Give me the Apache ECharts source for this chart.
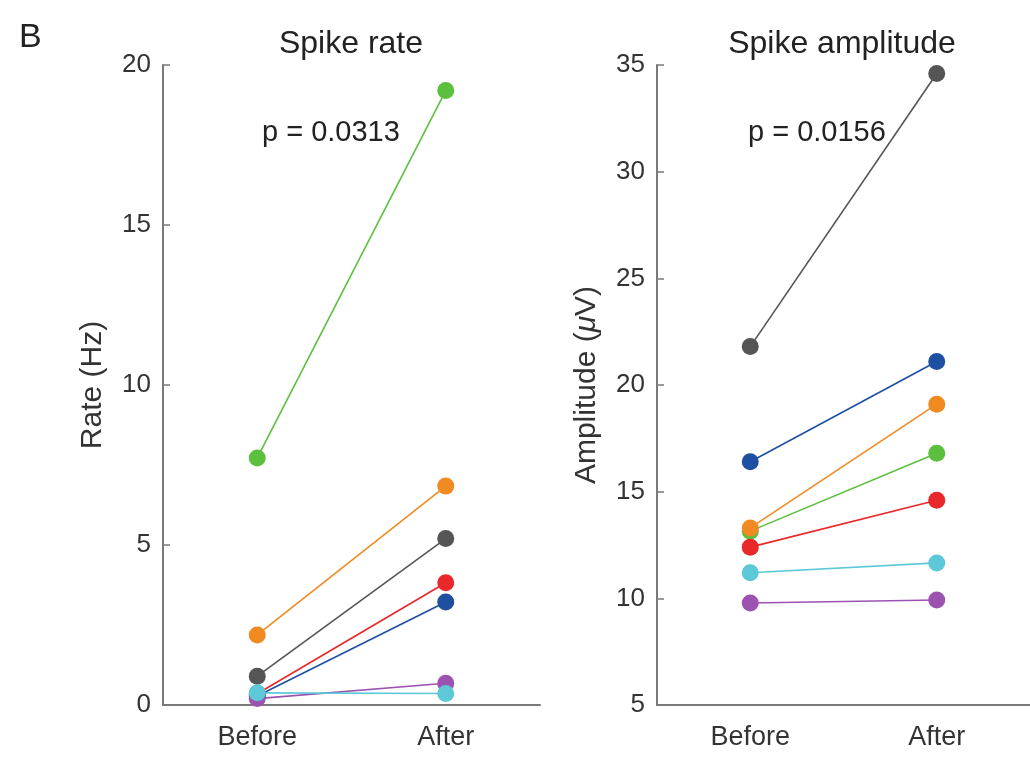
<!DOCTYPE html>
<html>
<head>
<meta charset="utf-8">
<script src="https://cdn.jsdelivr.net/npm/echarts@6/dist/echarts.min.js"></script>
<style>
  html, body { margin: 0; padding: 0; background: #fff; }
  #chart { width: 1030px; height: 757px; }
</style>
</head>
<body>
<div id="chart"></div>
<script>
// categories
const phases = ['Before', 'After']

// colours per recording
const colors = ['#5cbf3e', '#f28a22', '#555555', '#e8282a', '#1f4fa0', '#9b52b0', '#5cc8d8']

// spike rate (Hz): [before, after]
const rateGreen = [7.72, 19.2]
const rateOrange = [2.19, 6.84]
const rateGray = [0.9, 5.2]
const rateRed = [0.35, 3.82]
const rateBlue = [0.28, 3.22]
const ratePurple = [0.2, 0.68]
const rateCyan = [0.38, 0.36]
const rateSets = [rateGreen, rateOrange, rateGray, rateRed, rateBlue, ratePurple, rateCyan]

// spike amplitude (uV): [before, after]
const ampGreen = [13.15, 16.8]
const ampOrange = [13.3, 19.1]
const ampGray = [21.8, 34.6]
const ampRed = [12.4, 14.6]
const ampBlue = [16.4, 21.1]
const ampPurple = [9.78, 9.92]
const ampCyan = [11.2, 11.66]
const ampSets = [ampGreen, ampOrange, ampGray, ampRed, ampBlue, ampPurple, ampCyan]

const rateTicks = { min: 0, max: 20, interval: 5 }
const ampTicks = { min: 5, max: 35, interval: 5 }

const font = 'Liberation Sans, Arial, sans-serif'
const axisGray = '#7a7a7a'
const textGray = '#333'

// 通用坐标轴样式
const baseX = {
  type: 'category',
  data: phases,
  boundaryGap: true,
  axisLine: { lineStyle: { color: axisGray, width: 2 } },
  axisTick: { inside: true, alignWithLabel: true, length: 6, lineStyle: { color: axisGray, width: 1.5 } },
  axisLabel: { color: textGray, fontSize: 27, fontFamily: font, margin: 19 },
  splitLine: { show: false }
}

const baseY = {
  type: 'value',
  axisLine: { show: true, lineStyle: { color: axisGray, width: 2 } },
  axisTick: { show: true, inside: true, length: 7, lineStyle: { color: axisGray, width: 1.5 } },
  axisLabel: { color: textGray, fontSize: 26, fontFamily: font, margin: 12 },
  splitLine: { show: false },
  nameLocation: 'middle',
  nameTextStyle: { color: textGray, fontSize: 30, fontFamily: font }
}

function makeSeries(sets, idx) {
  return sets.map((d, i) => ({
    type: 'line',
    xAxisIndex: idx,
    yAxisIndex: idx,
    data: d,
    symbol: 'circle',
    symbolSize: 17,
    lineStyle: { color: colors[i], width: 1.6 },
    itemStyle: { color: colors[i] },
    emphasis: { disabled: true },
    silent: true,
    animation: false
  }))
}

const chart = echarts.init(document.getElementById('chart'))
chart.setOption({
  backgroundColor: '#fff',
  animation: false,
  grid: [
    { left: 163, right: 490, top: 65, bottom: 52 },
    { left: 657, right: 0, top: 65, bottom: 52 }
  ],
  xAxis: [
    Object.assign({ gridIndex: 0 }, baseX),
    Object.assign({ gridIndex: 1 }, baseX)
  ],
  yAxis: [
    Object.assign({ gridIndex: 0, name: 'Rate (Hz)', nameGap: 55 }, baseY, rateTicks),
    Object.assign({ gridIndex: 1, name: 'Amplitude ({i|μ}V)', nameGap: 55 }, baseY, ampTicks, {
      nameTextStyle: {
        color: textGray, fontSize: 30, fontFamily: font,
        rich: { i: { fontStyle: 'italic', fontSize: 30, fontFamily: font, color: textGray } }
      }
    })
  ],
  graphic: [
    { type: 'text', x: 19, y: 38, style: { text: 'B', fontSize: 34, fontFamily: font, fill: '#222', textVerticalAlign: 'middle' } },
    { type: 'text', x: 351, y: 44, style: { text: 'Spike rate', fontSize: 32, fontFamily: font, fill: '#222', textAlign: 'center', textVerticalAlign: 'middle' } },
    { type: 'text', x: 842, y: 44, style: { text: 'Spike amplitude', fontSize: 32, fontFamily: font, fill: '#222', textAlign: 'center', textVerticalAlign: 'middle' } },
    { type: 'text', x: 262, y: 133, style: { text: 'p = 0.0313', fontSize: 29, fontFamily: font, fill: '#222', textVerticalAlign: 'middle' } },
    { type: 'text', x: 748, y: 133, style: { text: 'p = 0.0156', fontSize: 29, fontFamily: font, fill: '#222', textVerticalAlign: 'middle' } }
  ],
  series: makeSeries(rateSets, 0).concat(makeSeries(ampSets, 1))
})
</script>
</body>
</html>
